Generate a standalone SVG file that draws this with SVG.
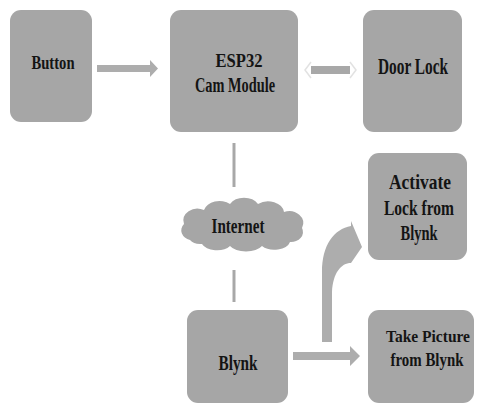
<svg xmlns="http://www.w3.org/2000/svg" width="484" height="407" viewBox="0 0 484 407">
<defs>
<style>
.box{fill:#a6a6a6;}
.t{font-family:"Liberation Serif","DejaVu Serif",serif;font-weight:bold;fill:#141414;text-anchor:middle;}
.arr{fill:#adadad;}
.ln{stroke:#a8a8a8;stroke-width:3;fill:none;}
</style>
</defs>
<rect width="484" height="407" fill="#ffffff"/>
<g id="connectors">
<path class="arr" d="M97 65 H150 V60 L158 68.5 L150 77 V72 H97 Z"/>
<path d="M311 66 H350 V74 H311 Z" fill="#a8a8a8"/>
<path d="M311 62 L305 70 L311 78 M350 62 L356 70 L350 78" stroke="#e2e2e2" stroke-width="1.5" fill="none"/>
<line class="ln" x1="234" y1="143" x2="234" y2="187"/>
<line class="ln" x1="234" y1="270" x2="234" y2="302"/>
<path class="arr" d="M293 352 H350 V346 L360 356 L350 366 V360 H293 Z"/>
<path class="arr" d="M322 342 L322 272 C322 245 334 229 351 226 L351 221 L362 247 L351 263 C341 263 333 273 332 292 L332 342 Z"/>
</g>
<g id="button">
<rect class="box" x="10" y="10" width="82" height="112" rx="11"/>
<text class="t" x="53" y="69" font-size="18" textLength="43" lengthAdjust="spacingAndGlyphs">Button</text>
</g>
<g id="esp32">
<rect class="box" x="170" y="10" width="128" height="122" rx="11"/>
<text class="t" x="239" y="67" font-size="19" textLength="47" lengthAdjust="spacingAndGlyphs">ESP32</text>
<text class="t" x="235" y="92" font-size="20" textLength="80" lengthAdjust="spacingAndGlyphs">Cam Module</text>
</g>
<g id="doorlock">
<rect class="box" x="363" y="10" width="99" height="122" rx="11"/>
<text class="t" x="413" y="74" font-size="23" textLength="70" lengthAdjust="spacingAndGlyphs">Door Lock</text>
</g>
<g id="internet">
<path fill="#a6a6a6" d="M190 240 a12 10 0 0 1 -6 -16 a14 12 0 0 1 20 -14 a16 12 0 0 1 26 -6 a16 12 0 0 1 28 0 a16 12 0 0 1 26 8 a14 12 0 0 1 18 16 a12 10 0 0 1 -12 14 a16 10 0 0 1 -28 4 a18 10 0 0 1 -32 0 a16 10 0 0 1 -28 -2 a12 8 0 0 1 -12 -4 Z"/>
<text class="t" x="238" y="233" font-size="21" textLength="53" lengthAdjust="spacingAndGlyphs">Internet</text>
</g>
<g id="activate">
<rect class="box" x="368" y="153" width="99" height="107" rx="11"/>
<text class="t" x="420" y="189" font-size="22" textLength="62" lengthAdjust="spacingAndGlyphs">Activate</text>
<text class="t" x="419" y="215" font-size="22" textLength="70" lengthAdjust="spacingAndGlyphs">Lock from</text>
<text class="t" x="419" y="240" font-size="22" textLength="37" lengthAdjust="spacingAndGlyphs">Blynk</text>
</g>
<g id="blynk">
<rect class="box" x="187" y="310" width="101" height="93" rx="11"/>
<text class="t" x="238" y="370" font-size="22" textLength="39" lengthAdjust="spacingAndGlyphs">Blynk</text>
</g>
<g id="takepicture">
<rect class="box" x="368" y="310" width="106" height="93" rx="11"/>
<text class="t" x="428" y="342" font-size="16" textLength="84" lengthAdjust="spacingAndGlyphs">Take Picture</text>
<text class="t" x="427" y="366" font-size="18" textLength="73" lengthAdjust="spacingAndGlyphs">from Blynk</text>
</g>
</svg>
